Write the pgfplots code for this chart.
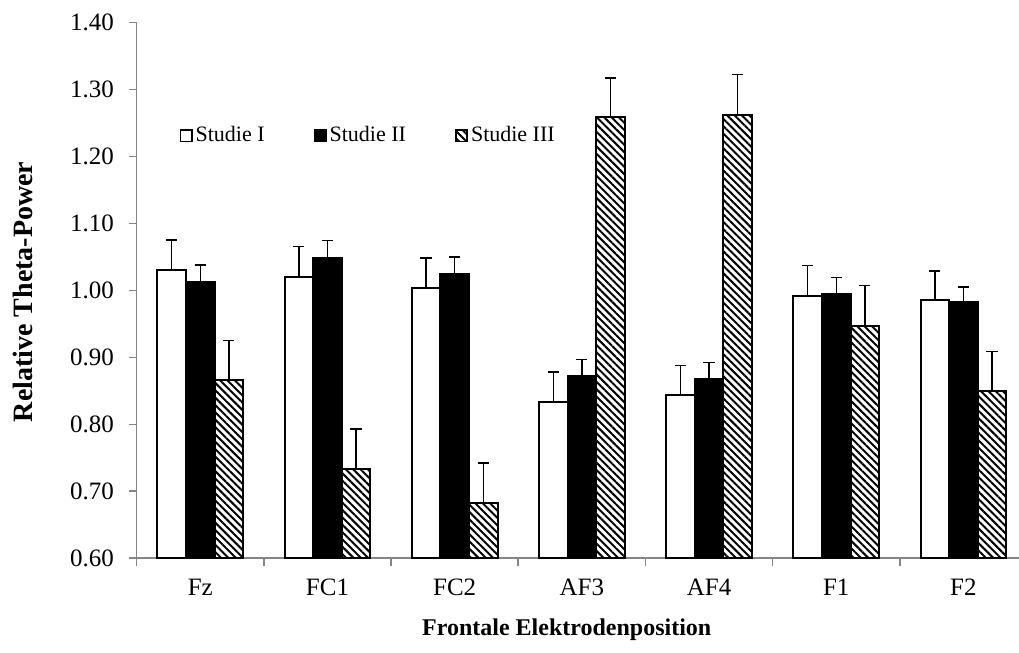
\documentclass[border=0pt]{standalone}
\usepackage{fontspec}
\setmainfont{Liberation Serif}
\usepackage{pgfplots}
\pgfplotsset{compat=1.18}
\usepackage{pgfplotstable}
\usetikzlibrary{patterns.meta}
\definecolor{axgray}{RGB}{134,134,134}
\renewcommand\normalsize{\fontsize{12.5pt}{15pt}\selectfont}
\newcommand\tickfont{\fontsize{12.5pt}{15pt}\selectfont}

\pgfplotstableread{
x y e
0 1.030 0.045
1 1.020 0.045
2 1.003 0.045
3 0.833 0.045
4 0.843 0.045
5 0.992 0.045
6 0.985 0.044
}\studieI
\pgfplotstableread{
x y e
0 1.013 0.025
1 1.048 0.026
2 1.025 0.025
3 0.872 0.025
4 0.867 0.025
5 0.994 0.025
6 0.982 0.023
}\studieII
\pgfplotstableread{
x y e
0 0.866 0.059
1 0.733 0.060
2 0.683 0.059
3 1.258 0.059
4 1.262 0.060
5 0.947 0.060
6 0.850 0.059
}\studieIII

\begin{document}
\normalsize
\begin{tikzpicture}
\path[use as bounding box] (-68.35pt,-47.35pt) rectangle (441.15pt,279.15pt);
\begin{axis}[
  at={(0,0)}, anchor=south west,
  scale only axis,
  width=445.15pt, height=268pt,
  ybar=0pt, bar width=14.3pt,
  xmin=-0.5, xmax=6.5,
  ymin=0.6, ymax=1.4,
  ytick={0.6,0.7,...,1.41},
  /pgf/number format/fixed,
  /pgf/number format/fixed zerofill,
  /pgf/number format/precision=2,
  /pgf/number format/assume math mode=true,
  xtick={-0.5,0.5,...,6.6},
  xticklabels={},
  extra x ticks={0,1,2,3,4,5,6},
  extra x tick labels={Fz,FC1,FC2,AF3,AF4,F1,F2},
  extra x tick style={major tick length=0pt, xticklabel style={yshift=-6pt, font=\tickfont}},
  major tick length=4pt,
  tick align=outside,
  axis x line*=bottom, axis y line*=left,
  axis line style={axgray, line width=0.8pt, -},
  tick style={axgray, line width=0.8pt},
  yticklabel style={xshift=-3pt, font=\tickfont},
  xticklabel style={font=\tickfont},
  ylabel={Relative Theta-Power},
  ylabel style={font=\fontsize{14pt}{16pt}\selectfont\bfseries, at={(axis description cs:-0.1277,0.497)}, anchor=center},
  xlabel={Frontale Elektrodenposition},
  xlabel style={font=\fontsize{12pt}{14pt}\selectfont\bfseries, at={(axis description cs:0.483,-0.134)}, anchor=center},
  legend style={draw=none, fill=none, at={(axis description cs:0.041,0.788)}, anchor=west,
    legend columns=-1, /tikz/every even column/.append style={column sep=23pt},
    nodes={inner xsep=1.5pt}, font=\fontsize{11pt}{13pt}\selectfont},
  legend image code/.code={\draw[#1, line width=0.9pt] (0pt,-2.8pt) rectangle (5.6pt,2.8pt);},
  error bars/y dir=plus, error bars/y explicit,
  error bars/error bar style={black, line width=0.7pt},
  error bars/error mark options={black, line width=0.7pt, mark size=2.8pt, rotate=90},
]
\addplot[draw=black, line width=1pt, fill=white] table[x=x, y=y, y error=e] {\studieI};
\addplot[draw=black, line width=1pt, fill=black] table[x=x, y=y, y error=e] {\studieII};
\addplot[draw=black, line width=1pt, fill=white, postaction={pattern={Lines[angle=-45, distance=2.6pt, line width=1pt]}}] table[x=x, y=y, y error=e] {\studieIII};
\legend{Studie I, Studie II, Studie III}
\end{axis}
\end{tikzpicture}
\end{document}
